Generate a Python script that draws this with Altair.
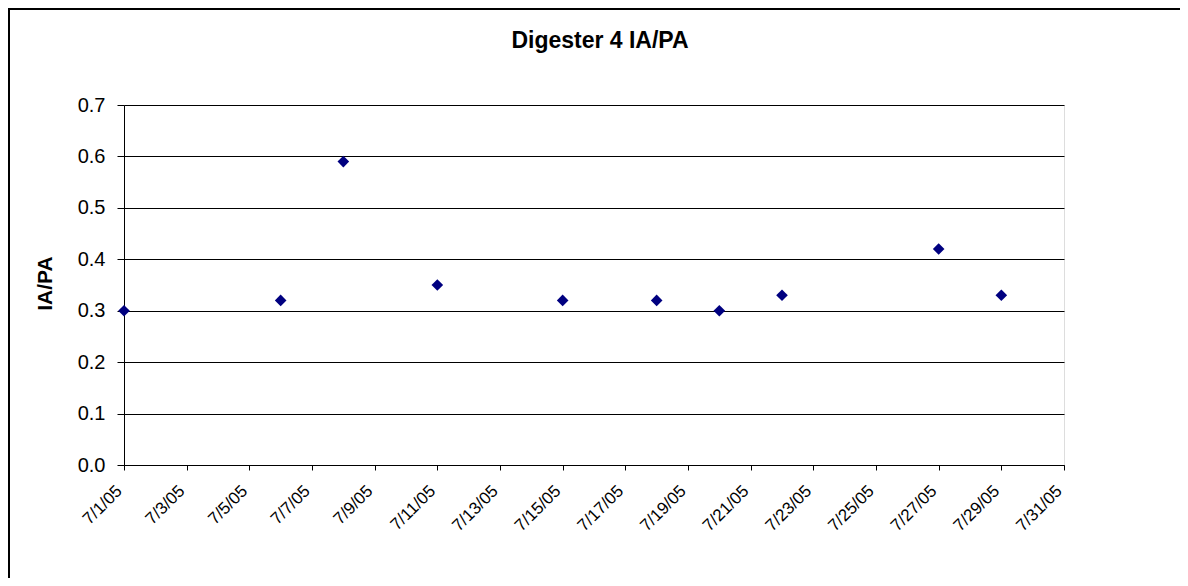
import altair as alt
import pandas as pd

# Data
dates = ["2005-07-01T00:00:00", "2005-07-06T00:00:00", "2005-07-08T00:00:00",
         "2005-07-11T00:00:00", "2005-07-15T00:00:00", "2005-07-18T00:00:00",
         "2005-07-20T00:00:00", "2005-07-22T00:00:00", "2005-07-27T00:00:00",
         "2005-07-29T00:00:00"]
ia_pa = [0.30, 0.32, 0.59, 0.35, 0.32, 0.32, 0.30, 0.33, 0.42, 0.33]

tick_days = list(range(1, 32, 2))
y_ticks = [0.0, 0.1, 0.2, 0.3, 0.4, 0.5, 0.6, 0.7]
chart_title = ["Digester 4 IA/PA"]

df = pd.DataFrame({"date": dates, "value": ia_pa})

FONT = "Arial, Liberation Sans, sans-serif"

x_enc = alt.X(
    "date:T",
    scale=alt.Scale(domain=[alt.DateTime(year=2005, month=7, date=1),
                            alt.DateTime(year=2005, month=7, date=31)]),
    axis=alt.Axis(
        values=[alt.DateTime(year=2005, month=7, date=d) for d in tick_days],
        format="%-m/%-d/%y",
        labelAngle=-45,
        labelAlign="right",
        labelBaseline="middle",
        labelFontSize=17,
        labelFont=FONT,
        labelColor="black",
        labelPadding=18,
        labelOffset=-5,
        labelOverlap=False,
        labelFlush=False,
        tickSize=5,
        tickColor="black",
        domainColor="black",
        grid=False,
        title=None,
    ),
)

y_enc = alt.Y(
    "value:Q",
    scale=alt.Scale(domain=[0, 0.7], nice=False, zero=True),
    axis=alt.Axis(
        values=y_ticks,
        format=".1f",
        labelFontSize=20,
        labelFont=FONT,
        labelColor="black",
        labelPadding=12,
        tickSize=7,
        tickColor="black",
        domainColor="black",
        grid=True,
        gridColor="black",
        gridWidth=1,
        title="IA/PA",
        titleFont=FONT,
        titleFontSize=21,
        titleFontWeight="bold",
        titleColor="black",
        titleAngle=-90,
        titleX=-79,
        titleY=178,
        titleAlign="center",
        titleBaseline="middle",
    ),
)

points = alt.Chart(df).mark_point(
    shape="diamond", filled=True, size=135, color="#000080", opacity=1
).encode(x=x_enc, y=y_enc)

frame_df = pd.DataFrame({"k": [0]})
top_border = alt.Chart(frame_df).mark_rule(color="black", strokeWidth=2).encode(
    x=alt.value(-116), x2=alt.value(1060), y=alt.value(-96)
)
left_border = alt.Chart(frame_df).mark_rule(color="black", strokeWidth=2).encode(
    x=alt.value(-115), y=alt.value(-97), y2=alt.value(480)
)

title_df = pd.DataFrame({"t": chart_title})
title = alt.Chart(title_df).mark_text(
    font=FONT, fontSize=23, fontWeight="bold", color="black",
    align="center", baseline="alphabetic",
).encode(text="t:N", x=alt.value(476), y=alt.value(-57))

chart = alt.layer(top_border, left_border, title, points).properties(
    width=940,
    height=360,
    padding={"left": 116, "top": 97, "right": 116, "bottom": 113},
    autosize=alt.AutoSizeParams(type="none"),
).configure_view(stroke="black", strokeWidth=1).configure(background="white")

chart.save("out.html", embed_options={"renderer": "svg", "actions": False})
